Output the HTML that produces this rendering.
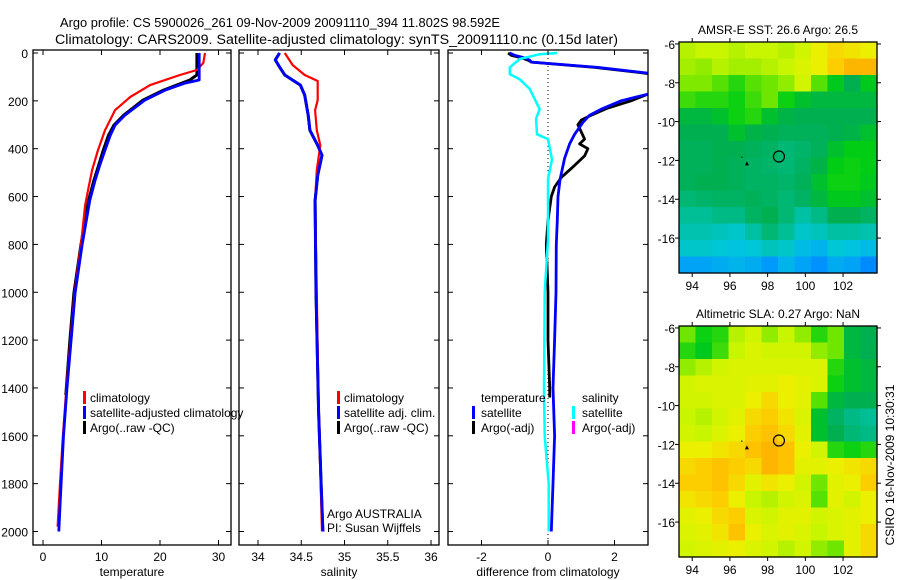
<!DOCTYPE html>
<html><head><meta charset="utf-8"><style>
html,body{margin:0;padding:0;background:#fff;}
svg{display:block;font-family:"Liberation Sans",sans-serif;}
</style></head><body>
<svg id="fig" width="900" height="580" viewBox="0 0 900 580">
<text x="60" y="27" font-size="13" textLength="440" lengthAdjust="spacingAndGlyphs">Argo profile: CS 5900026_261 09-Nov-2009 20091110_394 11.802S 98.592E</text>
<text x="55" y="44" font-size="13.5" textLength="563" lengthAdjust="spacingAndGlyphs">Climatology: CARS2009. Satellite-adjusted climatology: synTS_20091110.nc (0.15d later)</text>
<g id="g"></g>
<text transform="translate(894,465) rotate(-90)" font-size="12" text-anchor="middle">CSIRO 16-Nov-2009 10:30:31</text>
</svg>
<script>
// ---------- data ----------
const tempClimDepth=[0,42,71,92,134,184,239,323,406,490,574,637,800,1000,1200,1400,1600,1800,1980];
const tempClimVal=[27.7,27.4,26.3,23.4,18.3,14.9,12.3,10.6,9.4,8.4,7.7,7.2,6.5,5.4,4.7,4.0,3.4,2.9,2.5];
const tempSatDepth=[0,113,126,155,197,260,302,344,406,470,532,616,800,1000,1200,1400,1600,1800,2000];
const tempSatVal=[26.7,26.7,24.3,20.9,17.4,14.0,12.3,11.5,10.6,9.7,8.9,8.0,6.7,5.5,4.8,4.1,3.5,3.1,2.7];
const tempArgoDepth=[0,92,113,155,197,260,302,344,406,470,532,616,800,1000,1200,1430];
const tempArgoVal=[26.3,26.3,25.1,20.6,17.1,13.8,12.1,11.2,10.3,9.5,8.7,7.8,6.5,5.3,4.6,3.9];
const salClimDepth=[0,50,92,117,197,239,323,386,490,616,1000,1500,2000];
const salClimVal=[34.31,34.40,34.54,34.69,34.69,34.66,34.68,34.72,34.68,34.66,34.68,34.70,34.74];
const salSatDepth=[0,29,59,92,134,176,260,323,386,427,511,616,1000,1500,1800,2000];
const salSatVal=[34.25,34.2,34.25,34.31,34.49,34.54,34.58,34.6,34.69,34.74,34.69,34.66,34.67,34.70,34.73,34.75];
const dTempSatDepth=[0,10,20,30,38,60,84,120,172,200,235,260,290,310,340,380,440,530,600,700,800,1000,1200,1400,1600,1800,2000];
const dTempSatVal=[-1.15,-1.0,-0.7,-0.55,-0.5,1.5,3.0,4.5,3.0,2.2,1.6,1.25,1.05,0.95,0.8,0.65,0.5,0.36,0.3,0.28,0.25,0.24,0.2,0.15,0.2,0.15,0.1];
const dTempArgoDepth=[0,10,20,30,38,60,84,120,172,200,230,260,280,300,330,360,380,400,430,470,520,560,600,700,800,1000,1200,1400,1440];
const dTempArgoVal=[-1.2,-1.1,-0.8,-0.6,-0.5,1.4,2.9,4.4,3.0,2.5,1.8,1.3,1.0,0.9,1.0,1.1,0.95,1.2,1.1,0.8,0.4,0.2,0.1,0.0,-0.05,0.0,0.0,0.05,0.05];
const dSalSatDepth=[0,5,25,60,88,110,150,235,275,340,360,445,528,780,1000,1400,1600,1800,2000];
const dSalSatVal=[0.27,-0.24,-0.85,-1.15,-1.15,-0.85,-0.55,-0.25,-0.36,-0.33,0,0.12,0,0,-0.1,-0.12,-0.1,0.02,0.02];
const depthTicks=[0,200,400,600,800,1000,1200,1400,1600,1800,2000];
const tempTicks=[0,10,20,30];
const salTicks=[34,34.5,35,35.5,36];
const diffTicks=[-2,0,2];
const lonTicks=[94,96,98,100,102];
const latTicks=[-6,-8,-10,-12,-14,-16];
const sstGrid=[
[0.70,0.72,0.72,0.70,0.72,0.72,0.70,0.74,0.80,0.84,0.82,0.80],
[0.68,0.66,0.70,0.68,0.68,0.70,0.72,0.76,0.80,0.86,0.90,0.90],
[0.64,0.64,0.60,0.56,0.60,0.62,0.66,0.74,0.60,0.52,0.46,0.52],
[0.58,0.56,0.56,0.54,0.58,0.62,0.54,0.50,0.48,0.48,0.48,0.48],
[0.48,0.48,0.50,0.54,0.56,0.50,0.47,0.46,0.46,0.46,0.46,0.46],
[0.46,0.46,0.46,0.50,0.47,0.46,0.45,0.45,0.45,0.46,0.47,0.50],
[0.45,0.45,0.46,0.46,0.45,0.44,0.42,0.43,0.45,0.50,0.53,0.53],
[0.45,0.45,0.46,0.45,0.44,0.43,0.42,0.44,0.47,0.53,0.54,0.53],
[0.45,0.46,0.46,0.45,0.44,0.44,0.43,0.45,0.50,0.54,0.54,0.52],
[0.42,0.43,0.44,0.44,0.45,0.44,0.42,0.44,0.48,0.52,0.52,0.50],
[0.38,0.38,0.40,0.40,0.44,0.46,0.42,0.36,0.40,0.46,0.46,0.44],
[0.34,0.34,0.32,0.30,0.36,0.42,0.38,0.30,0.32,0.36,0.36,0.34],
[0.30,0.30,0.28,0.26,0.28,0.32,0.30,0.24,0.22,0.28,0.26,0.24],
[0.18,0.18,0.20,0.22,0.20,0.16,0.22,0.18,0.14,0.20,0.18,0.12]];
const slaGrid=[
[0.62,0.54,0.56,0.70,0.74,0.66,0.72,0.66,0.56,0.62,0.48,0.46],
[0.56,0.52,0.58,0.72,0.76,0.74,0.74,0.74,0.66,0.62,0.48,0.46],
[0.66,0.70,0.74,0.76,0.76,0.76,0.76,0.76,0.76,0.56,0.50,0.48],
[0.74,0.76,0.76,0.76,0.78,0.78,0.80,0.78,0.76,0.54,0.50,0.48],
[0.74,0.74,0.76,0.76,0.80,0.84,0.80,0.78,0.60,0.48,0.46,0.46],
[0.72,0.70,0.74,0.78,0.84,0.86,0.82,0.76,0.50,0.44,0.40,0.38],
[0.74,0.72,0.76,0.80,0.86,0.88,0.84,0.78,0.50,0.46,0.42,0.40],
[0.80,0.80,0.82,0.84,0.88,0.90,0.88,0.80,0.74,0.56,0.54,0.56],
[0.84,0.86,0.88,0.86,0.84,0.90,0.88,0.78,0.78,0.80,0.82,0.84],
[0.86,0.86,0.88,0.84,0.78,0.82,0.80,0.74,0.62,0.78,0.80,0.86],
[0.82,0.84,0.86,0.80,0.72,0.70,0.74,0.76,0.60,0.78,0.74,0.80],
[0.78,0.80,0.84,0.86,0.76,0.74,0.78,0.78,0.74,0.76,0.78,0.80],
[0.76,0.78,0.82,0.88,0.80,0.76,0.78,0.76,0.72,0.76,0.78,0.84],
[0.74,0.76,0.78,0.80,0.76,0.74,0.70,0.74,0.66,0.62,0.78,0.84]];

// ---------- drawing ----------
const NS='http://www.w3.org/2000/svg';
const G=document.getElementById('g');
function mk(tag,attrs,parent){const e=document.createElementNS(NS,tag);for(const k in attrs)e.setAttribute(k,attrs[k]);(parent||G).appendChild(e);return e;}
function lin(d0,d1,r0,r1){return v=>r0+(v-d0)*(r1-r0)/(d1-d0);}
const yDepth=lin(0,2000,53,531.5);

function panel(name,x0,x1,xs,xticks,xlabels,xtitle,yLabels){
  const g=mk('g',{});
  
  
  const cp=mk('clipPath',{id:'cp-'+name},g);
  mk('rect',{x:x0,y:50,width:x1-x0,height:495},cp);
  const plot=mk('g',{'clip-path':'url(#cp-'+name+')'},g);
  const frame=mk('rect',{x:x0,y:50,width:x1-x0,height:495,fill:'none',stroke:'#000','stroke-width':1.3},g);
  
  
  depthTicks.forEach(d=>{const y=yDepth(d);
    mk('line',{x1:x0,x2:x0+5,y1:y,y2:y,stroke:'#000'},g);
    mk('line',{x1:x1-5,x2:x1,y1:y,y2:y,stroke:'#000'},g);
    if(yLabels){const t=mk('text',{x:x0-5,y:y+5,'font-size':12,'text-anchor':'end'},g);t.textContent=d;
      
      }
  });
  xticks.forEach((v,i)=>{const x=xs(v);
    mk('line',{x1:x,x2:x,y1:545,y2:540,stroke:'#000'},g);
    mk('line',{x1:x,x2:x,y1:50,y2:55,stroke:'#000'},g);
    const t=mk('text',{x:x,y:561,'font-size':12,'text-anchor':'middle'},g);t.textContent=xlabels[i];
    
    
  });
  const tt=mk('text',{x:(x0+x1)/2,y:576,'font-size':12,'text-anchor':'middle'},g);tt.textContent=xtitle;
  
  
  return plot;
}
function line(parent,name,xs,depths,vals,color,w){
  const pts=depths.map((d,i)=>xs(vals[i]).toFixed(1)+','+yDepth(d).toFixed(1)).join(' ');
  const p=mk('polyline',{points:pts,fill:'none',stroke:color,'stroke-width':w,'stroke-linejoin':'round'},parent);
  
  
}
function legend(entries,xm,xt,y0){
  entries.forEach((e,i)=>{const y=y0+i*15;
    if(e.c){const m=mk('rect',{x:xm,y:y-11,width:3,height:13,fill:e.c});
      
      }
    const t=mk('text',{x:xt,y:y,'font-size':12});t.textContent=e.t;
    
    
  });
}

const xT=lin(0,30,43,218.5);
let p=panel('temperature-panel',33,231,xT,tempTicks,tempTicks.map(String),'temperature',true);
line(p,'temp-argo-line',xT,tempArgoDepth,tempArgoVal,'#000',3);
line(p,'temp-climatology-line',xT,tempClimDepth,tempClimVal,'#f00',2.2);
line(p,'temp-satellite-line',xT,tempSatDepth,tempSatVal,'#00f',2.8);
legend([{c:'#f00',t:'climatology'},{c:'#00f',t:'satellite-adjusted climatology'},{c:'#000',t:'Argo(..raw -QC)'}],83,90,402);

const xS=lin(34,36,258,431);
p=panel('salinity-panel',239,439,xS,salTicks,['34','34.5','35','35.5','36'],'salinity',false);
line(p,'sal-argo-line',xS,salSatDepth,salSatVal,'#000',3);
line(p,'sal-climatology-line',xS,salClimDepth,salClimVal,'#f00',2.2);
line(p,'sal-satellite-line',xS,salSatDepth,salSatVal,'#00f',2.8);
legend([{c:'#f00',t:'climatology'},{c:'#00f',t:'satellite adj. clim.'},{c:'#000',t:'Argo(..raw -QC)'}],337,344,402);
let t=mk('text',{x:327,y:518,'font-size':12});t.textContent='Argo AUSTRALIA';


t=mk('text',{x:327,y:532,'font-size':12});t.textContent='PI: Susan Wijffels';



const xD=lin(0,2,548,614.5);
p=panel('difference-panel',448,648,xD,diffTicks,['-2','0','2'],'difference from climatology',false);
mk('line',{x1:xD(0),x2:xD(0),y1:50,y2:545,stroke:'#000','stroke-width':1,'stroke-dasharray':'1,3'},p);
line(p,'dtemp-argo-line',xD,dTempArgoDepth,dTempArgoVal,'#000',2.8);
line(p,'dtemp-satellite-line',xD,dTempSatDepth,dTempSatVal,'#00f',2.8);
line(p,'dsal-satellite-line',xD,dSalSatDepth,dSalSatVal,'#0ff',2.5);
legend([{t:'temperature'},{c:'#00f',t:'satellite'},{c:'#000',t:'Argo(-adj)'}],472,481,402);
legend([{t:'salinity'},{c:'#0ff',t:'satellite'},{c:'#f0f',t:'Argo(-adj)'}],572,582,402);

const stops=[[0.0,[0,90,255]],[0.15,[0,150,255]],[0.27,[0,200,220]],[0.38,[0,190,150]],[0.46,[0,175,80]],[0.53,[0,205,20]],[0.62,[110,230,0]],[0.72,[200,245,0]],[0.8,[235,240,0]],[0.87,[255,200,0]],[1.0,[240,120,0]]];
function cmap(v){for(let i=1;i<stops.length;i++){if(v<=stops[i][0]){const a=stops[i-1],b=stops[i],f=(v-a[0])/(b[0]-a[0]);return 'rgb('+a[1].map((c,k)=>Math.round(c+(b[1][k]-c)*f)).join(',')+')';}}return 'rgb(240,120,0)';}

function map(name,top,title,grid){
  const g=mk('g',{});
  
  
  const x0=679,x1=877,y0=top,y1=top+231;
  const xL=lin(93.3,103.8,x0,x1), yL=lin(-5.9,-17.8,y0,y1);
  const rows=grid.length,cols=grid[0].length;
  const cw=(x1-x0)/cols,ch=(y1-y0)/rows;
  grid.forEach((row,r)=>row.forEach((v,c)=>{
    const cell=mk('rect',{x:x0+c*cw,y:y0+r*ch,width:cw+0.6,height:ch+0.6,fill:cmap(v)},g);
    
    
  }));
  mk('rect',{x:x0,y:y0,width:x1-x0,height:y1-y0,fill:'none',stroke:'#000','stroke-width':1.3},g);
  lonTicks.forEach(v=>{const x=xL(v);
    mk('line',{x1:x,x2:x,y1:y0-4,y2:y0,stroke:'#000'},g);
    mk('line',{x1:x,x2:x,y1:y1,y2:y1+4,stroke:'#000'},g);
    const tx=mk('text',{x:x,y:y1+17,'font-size':12,'text-anchor':'middle'},g);tx.textContent=v;
    
    });
  latTicks.forEach(v=>{const y=yL(v);
    mk('line',{x1:x0-4,x2:x0,y1:y,y2:y,stroke:'#000'},g);
    mk('line',{x1:x1,x2:x1+4,y1:y,y2:y,stroke:'#000'},g);
    const tx=mk('text',{x:x0-4,y:y+5,'font-size':12,'text-anchor':'end'},g);tx.textContent=v;
    
    });
  const tt=mk('text',{x:(x0+x1)/2,y:y0-8,'font-size':12,'text-anchor':'middle'},g);tt.textContent=title;
  
  
  const c=mk('circle',{cx:xL(98.6),cy:yL(-11.8),r:5.5,fill:'none',stroke:'#000','stroke-width':1.2},g);
  
  
  const tx=xL(96.9),ty=yL(-12.15);
  mk('polygon',{points:(tx-2)+','+(ty+2)+' '+(tx+2)+','+(ty+2)+' '+tx+','+(ty-2),fill:'#000'},g);
  mk('rect',{x:xL(96.6),y:yL(-11.8),width:1.2,height:1.2,fill:'#000'},g);
}
map('sst-map',42,'AMSR-E SST: 26.6 Argo: 26.5',sstGrid);
map('sla-map',326,'Altimetric SLA: 0.27 Argo: NaN',slaGrid);
</script>
</body></html>
